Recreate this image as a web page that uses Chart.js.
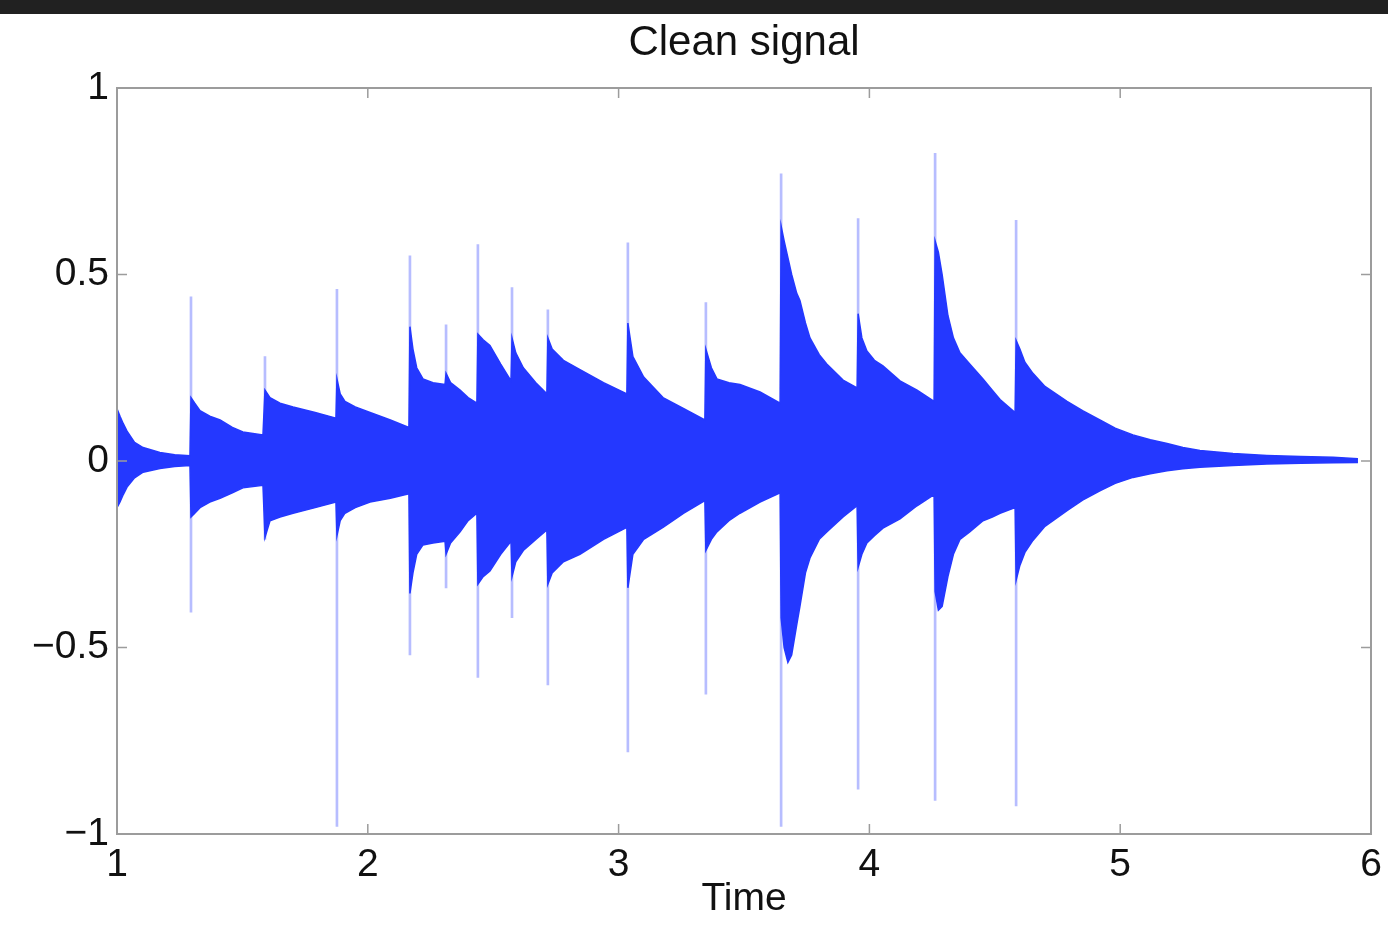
<!DOCTYPE html>
<html>
<head>
<meta charset="utf-8">
<script src="https://cdn.jsdelivr.net/npm/chart.js@4"></script>
<style>
  html, body { margin: 0; padding: 0; background: #fff; }
  #topbar { height: 14px; background: #212121; }
  canvas { display: block; }
</style>
</head>
<body>
<div id="topbar"></div>
<canvas id="signalChart" width="1388" height="911"></canvas>
<script>
    // envelope of the clean signal, time in s
    const envTime = [
        1.000, 1.012, 1.025, 1.040, 1.070, 1.104, 1.171, 1.230, 1.291,
        1.295, 1.310, 1.331, 1.370, 1.411, 1.460, 1.502, 1.582,
        1.590, 1.610, 1.650, 1.702, 1.790, 1.873,
        1.877, 1.890, 1.909, 1.950, 2.009, 2.090, 2.164,
        2.168, 2.180, 2.195, 2.220, 2.260, 2.308,
        2.312, 2.330, 2.368, 2.400, 2.435,
        2.439, 2.460, 2.487, 2.530, 2.571,
        2.575, 2.590, 2.620, 2.670, 2.714,
        2.718, 2.735, 2.780, 2.846, 2.940, 3.033,
        3.037, 3.057, 3.100, 3.177, 3.260, 3.344,
        3.348, 3.370, 3.392, 3.440, 3.484, 3.564, 3.644,
        3.648, 3.660, 3.675, 3.690, 3.710, 3.723, 3.745, 3.763, 3.800, 3.830, 3.895, 3.951,
        3.955, 3.970, 3.990, 4.020, 4.054, 4.122, 4.190, 4.258,
        4.262, 4.275, 4.290, 4.313, 4.335, 4.361, 4.400, 4.453, 4.490, 4.521, 4.581,
        4.585, 4.600, 4.620, 4.652, 4.700, 4.788, 4.850, 4.919, 4.980, 5.051, 5.120,
        5.187, 5.250, 5.318, 5.450, 5.585, 5.720, 5.849, 5.948
    ];
    const envUpper = [
        0.14, 0.12, 0.10, 0.08, 0.05, 0.036, 0.023, 0.017, 0.014,
        0.17, 0.155, 0.135, 0.12, 0.11, 0.09, 0.078, 0.07,
        0.19, 0.17, 0.155, 0.145, 0.13, 0.115,
        0.22, 0.18, 0.16, 0.145, 0.13, 0.11, 0.09,
        0.36, 0.30, 0.25, 0.22, 0.21, 0.205,
        0.235, 0.21, 0.19, 0.17, 0.155,
        0.34, 0.325, 0.31, 0.26, 0.215,
        0.33, 0.29, 0.25, 0.21, 0.18,
        0.33, 0.30, 0.27, 0.245, 0.21, 0.18,
        0.37, 0.28, 0.225, 0.17, 0.14, 0.11,
        0.30, 0.25, 0.22, 0.21, 0.205, 0.185, 0.155,
        0.63, 0.59, 0.545, 0.50, 0.45, 0.43, 0.37, 0.33, 0.285, 0.26, 0.217, 0.196,
        0.395, 0.33, 0.295, 0.27, 0.255, 0.215, 0.19, 0.16,
        0.59, 0.56, 0.50, 0.39, 0.33, 0.29, 0.26, 0.22, 0.19, 0.165, 0.13,
        0.323, 0.30, 0.265, 0.235, 0.20, 0.16, 0.135, 0.11, 0.088, 0.07, 0.057,
        0.047, 0.036, 0.028, 0.02, 0.015, 0.012, 0.01, 0.006
    ];
    const envLower = [
        -0.125, -0.11, -0.09, -0.07, -0.045, -0.03, -0.02, -0.015, -0.012,
        -0.15, -0.14, -0.125, -0.11, -0.10, -0.085, -0.072, -0.065,
        -0.205, -0.16, -0.15, -0.14, -0.125, -0.11,
        -0.20, -0.16, -0.14, -0.125, -0.11, -0.10, -0.088,
        -0.355, -0.30, -0.25, -0.225, -0.22, -0.215,
        -0.25, -0.22, -0.19, -0.16, -0.14,
        -0.33, -0.31, -0.295, -0.25, -0.215,
        -0.31, -0.27, -0.24, -0.21, -0.185,
        -0.33, -0.30, -0.27, -0.25, -0.21, -0.178,
        -0.34, -0.25, -0.21, -0.178, -0.14, -0.106,
        -0.24, -0.21, -0.19, -0.16, -0.14, -0.11, -0.085,
        -0.42, -0.50, -0.54, -0.52, -0.44, -0.39, -0.30, -0.26, -0.21, -0.19, -0.15, -0.12,
        -0.285, -0.25, -0.22, -0.20, -0.18, -0.155, -0.12, -0.09,
        -0.35, -0.40, -0.39, -0.31, -0.25, -0.21, -0.19, -0.16, -0.15, -0.14, -0.125,
        -0.32, -0.28, -0.245, -0.213, -0.175, -0.133, -0.105, -0.08, -0.06, -0.044, -0.034,
        -0.026, -0.021, -0.017, -0.012, -0.008, -0.006, -0.005, -0.004
    ];

    // thin attack spikes at each note onset
    const spikeTime = [1.295, 1.590, 1.877, 2.168, 2.312, 2.439, 2.575, 2.718, 3.037, 3.348, 3.648, 3.955, 4.262, 4.585];
    const spikeTop = [0.44, 0.28, 0.46, 0.55, 0.365, 0.58, 0.465, 0.405, 0.585, 0.425, 0.77, 0.65, 0.825, 0.645];
    const spikeBottom = [-0.405, -0.21, -0.98, -0.52, -0.34, -0.58, -0.42, -0.6, -0.78, -0.625, -0.98, -0.88, -0.91, -0.925];

    const xTicks = [1, 2, 3, 4, 5, 6];
    const yTicks = [-1, -0.5, 0, 0.5, 1];
    const yTickLabels = ["\u22121", "\u22120.5", "0", "0.5", "1"];
    const chartTitle = "Clean signal";

    const blue = "rgb(36,56,255)";
    const fontFamily = "'Liberation Sans', Arial, Helvetica, sans-serif";

    // MATLAB style box with inward ticks on all four sides, title over the axes
    const boxPlugin = {
        id: "matlabBox",
        afterDatasetsDraw(chart) {
            const { ctx, chartArea: a, scales } = chart;
            const len = 10;
            ctx.save();
            ctx.strokeStyle = "#9c9c9c";
            ctx.lineWidth = 2;
            ctx.strokeRect(a.left, a.top, a.right - a.left, a.bottom - a.top);
            ctx.lineWidth = 1.5;
            ctx.beginPath();
            xTicks.forEach((v) => {
                const px = scales.x.getPixelForValue(v);
                ctx.moveTo(px, a.bottom); ctx.lineTo(px, a.bottom - len);
                ctx.moveTo(px, a.top); ctx.lineTo(px, a.top + len);
            });
            yTicks.forEach((v) => {
                const py = scales.y.getPixelForValue(v);
                ctx.moveTo(a.left, py); ctx.lineTo(a.left + len, py);
                ctx.moveTo(a.right, py); ctx.lineTo(a.right - len, py);
            });
            ctx.stroke();

            ctx.fillStyle = "#111";
            ctx.font = "42px " + fontFamily;
            ctx.textAlign = "center";
            ctx.textBaseline = "alphabetic";
            ctx.fillText(chartTitle, (a.left + a.right) / 2, a.top - 33);
            ctx.restore();
        }
    };

    const ctx = document.getElementById("signalChart").getContext("2d");
    new Chart(ctx, {
        type: "line",
        data: {
            datasets: [
                {
                    label: "upper",
                    data: envTime.map((t, i) => ({ x: t, y: envUpper[i] })),
                    borderColor: blue,
                    backgroundColor: blue,
                    borderWidth: 1.5,
                    pointRadius: 0,
                    tension: 0,
                    fill: "+1",
                    order: 1,
                },
                {
                    label: "lower",
                    data: envTime.map((t, i) => ({ x: t, y: envLower[i] })),
                    borderColor: blue,
                    backgroundColor: blue,
                    borderWidth: 1.5,
                    pointRadius: 0,
                    tension: 0,
                    fill: false,
                    order: 1,
                },
                {
                    type: "bar",
                    label: "spikes",
                    data: spikeTime.map((t, i) => ({ x: t, y: [spikeBottom[i], spikeTop[i]] })),
                    backgroundColor: "rgba(36,56,255,0.33)",
                    barThickness: 2,
                    order: 2,
                },
            ],
        },
        options: {
            responsive: false,
            animation: false,
            devicePixelRatio: 1,
            layout: { padding: { left: 0, right: 17, top: 74, bottom: 0 } },
            plugins: {
                legend: { display: false },
                tooltip: { enabled: false },
                title: { display: false },
            },
            scales: {
                x: {
                    type: "linear",
                    min: 1,
                    max: 6,
                    offset: false,
                    grid: { display: false, drawTicks: false },
                    border: { display: false },
                    afterBuildTicks: (scale) => { scale.ticks = xTicks.map((v) => ({ value: v })); },
                    afterFit: (scale) => {
                        scale.height = 91;
                        scale.paddingLeft = 0;
                        scale.paddingRight = 0;
                    },
                    ticks: {
                        autoSkip: false,
                        maxRotation: 0,
                        padding: 8,
                        color: "#111",
                        font: { family: fontFamily, size: 39 },
                        callback: (v) => String(v),
                    },
                    title: {
                        display: true,
                        text: "Time",
                        color: "#111",
                        font: { family: fontFamily, size: 39 },
                        padding: { top: 0, bottom: 2 },
                    },
                },
                y: {
                    type: "linear",
                    min: -1,
                    max: 1,
                    grid: { display: false, drawTicks: false },
                    border: { display: false },
                    afterBuildTicks: (scale) => { scale.ticks = yTicks.map((v) => ({ value: v })); },
                    afterFit: (scale) => {
                        scale.width = 117;
                        scale.paddingTop = 0;
                        scale.paddingBottom = 0;
                    },
                    ticks: {
                        autoSkip: false,
                        padding: 8,
                        color: "#111",
                        font: { family: fontFamily, size: 39 },
                        callback: (v) => yTickLabels[yTicks.indexOf(v)],
                    },
                },
            },
        },
        plugins: [boxPlugin],
    });
</script>
</body>
</html>
